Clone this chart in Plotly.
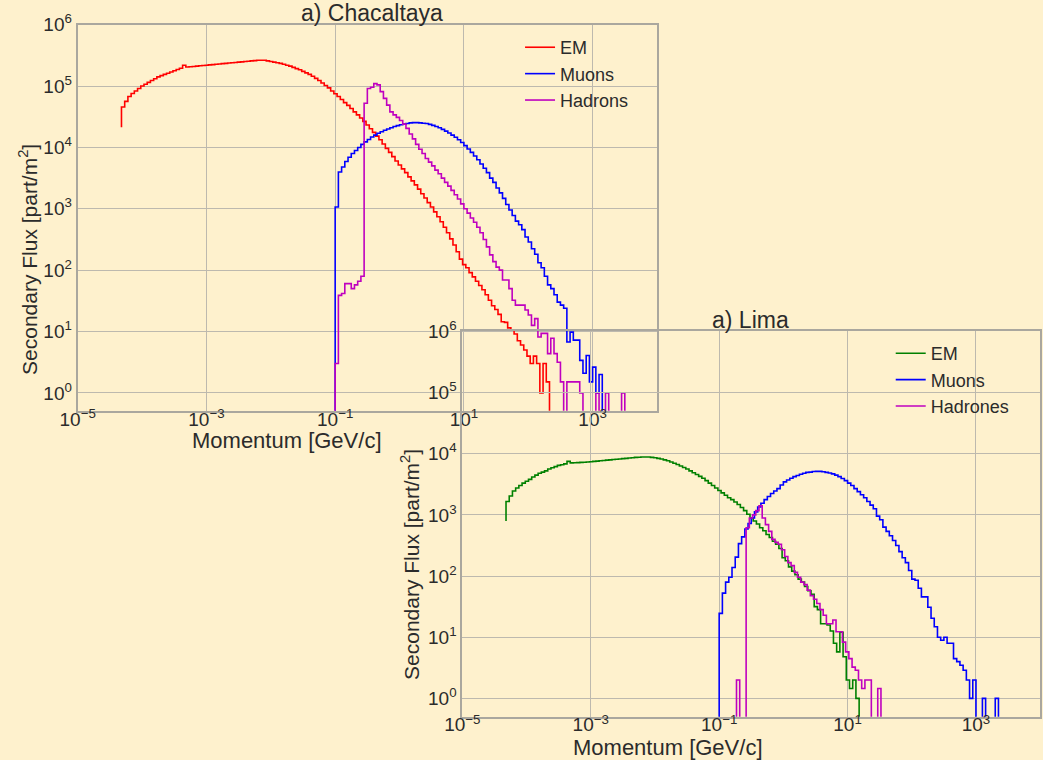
import plotly.graph_objects as go

# ---------------- data (log10 of flux per 0.05-dex momentum bin; None = empty bin) ----------------
BIN = 0.05

cha_em_start = -4.32
cha_em_first = 4.33
cha_em = [4.66, 4.75, 4.83, 4.88, 4.92, 4.96, 5.00, 5.03, 5.06, 5.09,
          5.12, 5.15, 5.17, 5.19, 5.21, 5.23, 5.25, 5.27, 5.29, 5.34,
          5.31, 5.315, 5.32, 5.325, 5.33, 5.335, 5.34, 5.345, 5.35, 5.355,
          5.36, 5.365, 5.37, 5.375, 5.38, 5.385, 5.39, 5.395, 5.40, 5.405,
          5.41, 5.415, 5.42, 5.42, 5.42, 5.41, 5.40, 5.39, 5.38, 5.37,
          5.355, 5.34, 5.325, 5.305, 5.285, 5.265, 5.24, 5.215, 5.19, 5.16,
          5.125, 5.09, 5.05, 5.01, 4.97, 4.92, 4.875, 4.83, 4.78, 4.73,
          4.685, 4.635, 4.58, 4.53, 4.48, 4.425, 4.365, 4.305, 4.245, 4.185,
          4.125, 4.055, 3.985, 3.92, 3.85, 3.78, 3.715, 3.65, 3.59, 3.52,
          3.455, 3.39, 3.32, 3.245, 3.175, 3.10, 3.03, 2.95, 2.87, 2.79,
          2.70, 2.61, 2.51, 2.41, 2.30, 2.18, 2.09, 2.04, 1.96, 1.89,
          1.82, 1.75, 1.68, 1.60, 1.51, 1.42, 1.36, 1.28, 1.16, 1.15,
          1.06, 1.02, 0.96, 0.85, 0.78, 0.70, 0.60, 0.48, 0.60, 0.48,
          0.0, 0.48, 0.18]

cha_mu_start = -1.00
cha_mu = [3.03, 3.60, 3.68, 3.77, 3.84, 3.90, 3.95, 4.00, 4.05, 4.09,
          4.13, 4.17, 4.20, 4.23, 4.255, 4.28, 4.30, 4.32, 4.34, 4.355,
          4.37, 4.38, 4.39, 4.40, 4.405, 4.405, 4.40, 4.395, 4.39, 4.375,
          4.36, 4.34, 4.32, 4.295, 4.265, 4.235, 4.20, 4.165, 4.125, 4.08,
          4.03, 3.975, 3.92, 3.86, 3.80, 3.73, 3.66, 3.59, 3.50, 3.43,
          3.34, 3.26, 3.17, 3.07, 2.98, 2.89, 2.80, 2.74, 2.66, 2.54,
          2.46, 2.35, 2.26, 2.12, 2.04, 1.90, 1.76, 1.70, 1.60, 1.48,
          1.43, 1.38, 0.83, 0.99, 0.86, 0.86, 0.53, 0.32, 0.61, 0.18,
          0.42, 0.0, 0.30]

cha_had_start = -1.00
cha_had = [0.48, 1.59, 1.62, 1.78, 1.78, 1.70, 1.76, 1.82, 1.90, 4.72,
           4.96, 4.98, 5.04, 5.02, 4.91, 4.80, 4.69, 4.58, 4.53, 4.49,
           4.44, 4.38, 4.31, 4.22, 4.14, 4.05, 3.97, 3.90, 3.82, 3.76,
           3.70, 3.63, 3.57, 3.50, 3.43, 3.37, 3.30, 3.23, 3.16, 3.08,
           3.00, 2.93, 2.85, 2.78, 2.70, 2.61, 2.50, 2.38, 2.25, 2.14,
           2.05, 2.00, 1.84, 1.84, 1.70, 1.51, 1.43, 1.43, 1.43, 1.35,
           1.27, 1.10, 1.21, 0.91, 0.97, 0.97, 0.64, 0.89, 0.64, 0.50,
           0.18, None, 0.18, 0.18, 0.18, 0.18, 0.0, None, None, None,
           None, 0.0, None, None, 0.0, None, None, None, None, 0.0]

lima_em_start = -4.32
lima_em_first = 2.90
lima_em = [3.22, 3.31, 3.39, 3.44, 3.48, 3.52, 3.55, 3.58, 3.62, 3.65,
           3.68, 3.70, 3.72, 3.75, 3.77, 3.79, 3.81, 3.82, 3.835, 3.875,
           3.85, 3.852, 3.855, 3.858, 3.862, 3.866, 3.87, 3.875, 3.88, 3.885,
           3.89, 3.895, 3.90, 3.905, 3.91, 3.915, 3.92, 3.925, 3.93, 3.935,
           3.94, 3.943, 3.946, 3.946, 3.946, 3.94, 3.935, 3.925, 3.915, 3.90,
           3.885, 3.865, 3.845, 3.825, 3.80, 3.775, 3.75, 3.72, 3.69, 3.66,
           3.63, 3.60, 3.56, 3.52, 3.48, 3.44, 3.40, 3.36, 3.32, 3.28,
           3.25, 3.21, 3.17, 3.12, 3.07, 3.01, 2.95, 2.90, 2.85, 2.79,
           2.74, 2.68, 2.63, 2.57, 2.52, 2.45, 2.30, 2.25, 2.15, 2.08,
           2.02, 1.95, 1.90, 1.83, 1.76, 1.70, 1.50, 1.45, 1.22, 1.22,
           1.20, 1.10, 0.90, 0.76, 1.08, 0.68, 0.30, 0.16, 0.30, 0.0]

lima_mu_start = -1.00
lima_mu = [1.39, 1.72, 1.90, 1.98, 2.14, 2.31, 2.53, 2.64, 2.77, 2.86,
           2.95, 3.05, 3.13, 3.19, 3.25, 3.30, 3.35, 3.39, 3.43, 3.49,
           3.54, 3.57, 3.60, 3.625, 3.645, 3.665, 3.68, 3.695, 3.70, 3.71,
           3.712, 3.712, 3.705, 3.695, 3.685, 3.67, 3.65, 3.625, 3.595, 3.56,
           3.52, 3.48, 3.43, 3.38, 3.33, 3.28, 3.22, 3.16, 3.10, 2.98,
           2.92, 2.80, 2.73, 2.66, 2.58, 2.50, 2.40, 2.30, 2.22, 2.09,
           1.95, 1.93, 1.80, 1.66, 1.66, 1.49, 1.31, 1.17, 1.00, 0.95,
           1.00, 0.90, 0.90, 0.65, 0.60, 0.54, 0.46, 0.30, 0.0, 0.30,
           None, None, 0.0, None, None, None, 0.0]

lima_had_start = -0.73
lima_had = [0.30, None, None, 2.79, 2.95, 3.00, 3.07, 3.15, 2.95, 2.84,
            2.73, 2.60, 2.55, 2.52, 2.43, 2.32, 2.22, 2.17, 2.06, 1.98,
            1.90, 1.86, 1.77, 1.68, 1.62, 1.55, 1.45, 1.36, 1.22, 1.22,
            1.28, 1.09, 1.09, 0.92, 0.76, 0.65, 0.51, 0.46, 0.30, 0.16,
            0.30, 0.30, None, None, 0.16]

x_tick_exp = [-5, -3, -1, 1, 3]
y_tick_exp = [0, 1, 2, 3, 4, 5, 6]

# ---------------- style ----------------
BG = "#fef1cd"
GRID = "#bdb9ae"
FRAME = "#aaa79e"
TXT = "#2b2b2b"
FONT = "Liberation Sans, Arial, sans-serif"
FLOOR = -3.0


def steps(start, vals, first=None):
    xs, ys = [], []
    xs.append(10 ** start)
    ys.append(10 ** (FLOOR if first is None else first))
    for i, v in enumerate(vals):
        xs.append(10 ** (start + BIN * i))
        ys.append(10 ** (FLOOR if v is None else v))
    xs.append(10 ** (start + BIN * len(vals)))
    ys.append(10 ** FLOOR)
    return xs, ys


fig = go.Figure()

series = [
    ("EM", cha_em_start, cha_em, cha_em_first, "#ff0000", "x", "y", "legend"),
    ("Muons", cha_mu_start, cha_mu, None, "#0000ff", "x", "y", "legend"),
    ("Hadrons", cha_had_start, cha_had, None, "#bf00bf", "x", "y", "legend"),
    ("EM", lima_em_start, lima_em, lima_em_first, "#008000", "x2", "y2", "legend2"),
    ("Muons", lima_mu_start, lima_mu, None, "#0000ff", "x2", "y2", "legend2"),
    ("Hadrones", lima_had_start, lima_had, None, "#bf00bf", "x2", "y2", "legend2"),
]
for name, start, vals, first, color, xa, ya, lg in series:
    xs, ys = steps(start, vals, first)
    fig.add_trace(go.Scatter(x=xs, y=ys, mode="lines", name=name,
                             line=dict(shape="hv", color=color, width=1.6),
                             xaxis=xa, yaxis=ya, legend=lg, hoverinfo="skip"))

xtv = [10.0 ** e for e in x_tick_exp]
xtt = ["10<sup>%s</sup>" % (str(e).replace("-", "\u2212")) for e in x_tick_exp]
ytv = [10.0 ** e for e in y_tick_exp]
ytt = ["10<sup>%d</sup>" % e for e in y_tick_exp]

common = dict(type="log", showgrid=True, gridcolor=GRID, gridwidth=1.4,
              showline=True, linecolor=FRAME, linewidth=2, mirror=True,
              ticks="", zeroline=False, automargin=False,
              tickfont=dict(size=19, color=TXT, family=FONT))
xcommon = dict(common, ticklabelstandoff=-10)

fig.update_layout(
    width=1043, height=760,
    margin=dict(l=0, r=0, t=0, b=0, pad=0, autoexpand=False),
    paper_bgcolor=BG, plot_bgcolor="rgba(0,0,0,0)",
    font=dict(family=FONT, size=19, color=TXT),
    xaxis=dict(domain=[0.0745, 0.6299], anchor="y", range=[-5, 4],
               tickvals=xtv, ticktext=xtt, **xcommon),
    yaxis=dict(domain=[0.4596, 0.9675], anchor="x", range=[-0.29, 6],
               tickvals=ytv, ticktext=ytt, **common),
    xaxis2=dict(domain=[0.4433, 0.9973], anchor="y2", range=[-5, 4],
                tickvals=xtv, ticktext=xtt, **xcommon),
    yaxis2=dict(domain=[0.0570, 0.5639], anchor="x2", range=[-0.30, 6],
                tickvals=ytv, ticktext=ytt, **common),
    legend=dict(x=0.4986, y=0.9618, xanchor="left", yanchor="top",
                bgcolor="rgba(0,0,0,0)", font=dict(size=18, color=TXT)),
    legend2=dict(x=0.854, y=0.5592, xanchor="left", yanchor="top",
                 bgcolor="rgba(0,0,0,0)", font=dict(size=18, color=TXT)),
    showlegend=True,
)

ann = [
    dict(text="a) Chacaltaya", x=0.3567, y=0.9829, size=23, angle=0),
    dict(text="a) Lima", x=0.72, y=0.5789, size=23, angle=0),
    dict(text="Momentum [GeV/c]", x=0.2752, y=0.4198, size=22, angle=0),
    dict(text="Momentum [GeV/c]", x=0.6405, y=0.0158, size=22, angle=0),
    dict(text="Secondary Flux [part/m<sup>2</sup>]", x=0.0268, y=0.6592, size=21, angle=-90),
    dict(text="Secondary Flux [part/m<sup>2</sup>]", x=0.3931, y=0.2566, size=21, angle=-90),
]
for a in ann:
    fig.add_annotation(text=a["text"], x=a["x"], y=a["y"], xref="paper", yref="paper",
                       xanchor="center", yanchor="middle", showarrow=False,
                       textangle=a["angle"], font=dict(size=a["size"], color=TXT, family=FONT))

fig.write_html("out.html")
